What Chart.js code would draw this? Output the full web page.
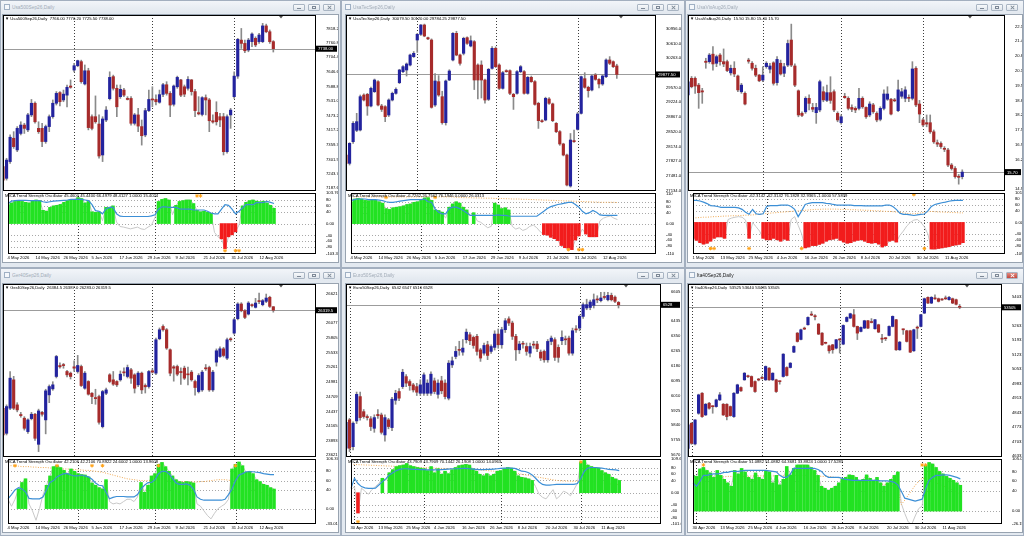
<!DOCTYPE html>
<html><head><meta charset="utf-8"><title>MT4 charts</title>
<script src="https://cdn.jsdelivr.net/npm/chart.js@4.4.1/dist/chart.umd.min.js"></script>
<style>
html,body{margin:0;padding:0;}
body{width:1024px;height:536px;overflow:hidden;background:#cfd8e3;position:relative;font-family:"Liberation Sans",Arial,sans-serif;}
.win{position:absolute;box-sizing:border-box;background:#e3e9f0;border:1px solid #a3afbf;}
.tbar{position:absolute;box-sizing:border-box;background:linear-gradient(#f2f5f9,#e2e8ef);}
.ico{position:absolute;box-sizing:border-box;width:6px;height:6px;border:1px solid #9fb0c4;background:#f4f7fb;}
.ttl{position:absolute;font-size:9.6px;transform:scale(0.5);transform-origin:0 0;white-space:nowrap;color:#a2acb8;line-height:1;}
.btn{position:absolute;box-sizing:border-box;width:12px;height:7px;border:1px solid #a9b5c3;border-radius:1px;background:linear-gradient(#f7f9fb,#e0e6ed);}
.gmin{position:absolute;left:3px;top:3px;width:4px;height:1px;background:#7d8896;}
.gmax{position:absolute;box-sizing:border-box;left:3px;top:1px;width:4px;height:3px;border:1px solid #7d8896;}
.gx{position:absolute;left:4.5px;top:0px;width:1px;height:5px;background:#fff;}
.box{position:absolute;box-sizing:border-box;background:#fff;border:1px solid #98a3b0;}
canvas{position:absolute;}
.hdr{position:absolute;font-size:8.4px;transform:scale(0.5);transform-origin:0 0;white-space:pre;color:#000;line-height:1;}
</style></head><body>
<script>
// ---------------- DATA ----------------
const datesMay4 = ['4 May 2026','14 May 2026','26 May 2026','5 Jun 2026','17 Jun 2026','29 Jun 2026','9 Jul 2026','21 Jul 2026','31 Jul 2026','12 Aug 2026'];
const datesMay1 = ['1 May 2026','13 May 2026','25 May 2026','4 Jun 2026','16 Jun 2026','26 Jun 2026','8 Jul 2026','20 Jul 2026','30 Jul 2026','11 Aug 2026'];
const datesApr30 = ['30 Apr 2026','13 May 2026','25 May 2026','4 Jun 2026','16 Jun 2026','26 Jun 2026','8 Jul 2026','20 Jul 2026','30 Jul 2026','11 Aug 2026'];
const sepsMay4 = [20, 42, 65];
const sepsMay1 = [21, 43, 66];
const sepsApr30 = [1, 21, 43, 66];

// Usa500
const spxO = [7273,7227,7293,7385,7339,7404,7437,7418,7477,7523,7424,7424,7372,7431,7470,7523,7565,7536,7555,7591,7654,7671,7687,7599,7651,7470,7470,7441,7319,7457,7541,7628,7582,7549,7575,7542,7542,7444,7477,7431,7398,7494,7540,7538,7527,7558,7596,7562,7519,7588,7615,7588,7582,7615,7569,7486,7479,7545,7536,7454,7487,7470,7470,7332,7477,7549,7630,7772,7759,7733,7766,7779,7766,7766,7828,7805,7766];
const spxC = [7220,7299,7389,7352,7424,7437,7424,7477,7523,7450,7411,7372,7431,7470,7523,7562,7529,7559,7586,7586,7671,7691,7608,7651,7427,7424,7450,7315,7461,7496,7625,7582,7509,7578,7555,7538,7444,7477,7433,7395,7494,7538,7536,7529,7557,7596,7562,7516,7591,7625,7555,7559,7617,7569,7494,7481,7545,7536,7454,7449,7450,7457,7332,7470,7496,7630,7775,7759,7730,7772,7796,7753,7792,7828,7805,7766,7738];
const spxH = [7286,7306,7398,7411,7431,7450,7444,7483,7538,7529,7450,7444,7437,7477,7536,7569,7569,7575,7595,7615,7680,7693,7693,7674,7661,7477,7552,7477,7470,7510,7647,7634,7595,7595,7582,7549,7549,7483,7503,7457,7503,7575,7588,7556,7575,7602,7608,7569,7595,7630,7617,7595,7628,7617,7578,7549,7549,7556,7542,7477,7529,7483,7483,7477,7503,7647,7779,7818,7772,7779,7801,7785,7799,7838,7835,7812,7770];
const spxL = [7201,7220,7286,7345,7332,7398,7404,7411,7470,7444,7404,7352,7365,7411,7464,7516,7512,7529,7509,7582,7647,7667,7602,7595,7418,7418,7444,7306,7293,7450,7536,7575,7470,7542,7549,7536,7437,7437,7411,7358,7391,7490,7509,7516,7523,7549,7555,7470,7512,7582,7549,7549,7575,7555,7470,7477,7473,7477,7411,7444,7437,7431,7319,7326,7424,7542,7621,7739,7722,7726,7746,7746,7759,7762,7801,7759,7725];
const spxHist = [64,70,75,77,75,72,70,76,80,78,45,42,55,60,62,65,72,78,80,82,88,85,70,75,40,38,40,null,55,55,60,null,null,null,null,null,null,null,null,null,null,null,null,75,82,85,80,null,62,75,78,80,80,68,45,40,42,38,35,null,null,-52,-85,-45,-38,-28,null,60,72,78,80,76,74,76,70,62,52];
const spxSig = [68,76,78,79,79,79,78,78,78,78,74,72,74,76,77,78,79,80,82,82,82,82,80,78,64,44,42,33,50,55,55,33,25,24,24,24,24,24,24,24,24,26,30,49,57,57,55,55,55,50,49,49,49,46,46,46,46,42,36,33,33,49,64,62,49,33,42,53,64,64,64,71,71,72,75,72,68];
const spxRaw = [64,70,75,77,75,72,70,76,80,78,45,42,55,60,62,65,72,78,80,82,88,85,70,75,40,38,40,10,55,55,60,5,-10,-12,-15,-18,-15,-12,-18,-20,-12,-5,20,75,82,85,80,30,62,75,78,80,80,68,45,40,42,38,35,-30,-45,-52,-85,-45,-38,-28,-5,60,72,78,80,76,74,76,70,62,52];
const spxUp = [54,55];
const spxDn = [62,65,66];
const spxTicks = [7818.20,7760.80,7704.40,7646.60,7588.80,7531.00,7473.20,7417.20,7359.30,7301.50,7243.70,7187.60];
const spxOscTicks = [103.7667,80,60,40,0,-40,-60,-80,-103.3222];
const spxOscLbl = ['103.7667','80','60','40','0.00','-40','-60','-80','-103.3222'];

// UsaTec
const tecO = [27971,27774,28287,28555,28563,29391,29407,29131,29470,29707,29131,29115,28918,29273,29431,29683,29944,29983,30101,30299,30693,30827,31048,30748,30693,29155,29707,29352,28737,29746,30220,30851,30338,30378,30748,30551,30654,30101,30101,29746,29289,30022,30496,30101,29549,29967,29967,29407,29431,29944,29944,29431,29810,29707,29194,28784,28800,29297,29180,28721,28524,28232,27971,27237,28310,28579,28957,29778,29573,29510,29865,29762,29652,29825,30220,30180,30079.5];
const tecC = [27774,28247,28721,28760,29352,29273,29131,29549,29746,29155,29052,28879,29273,29431,29526,29983,30062,30125,30338,30378,30827,31048,30788,30720,29099,29723,29391,28737,29723,29959,30851,30338,30141,30733,30614,30677,29746,29746,29746,29273,29999,30496,30062,29549,29920,29944,29431,29352,29944,30062,29431,29810,29707,29170,28784,28760,29312,29194,28784,28524,28232,27971,27261,28326,28287,28942,29825,29573,29494,29841,29762,29652,29841,30220,30141,30062,29877.5];
const tecH = [28050,28263,28760,28957,29391,29420,29431,29580,29770,29730,29170,29140,29300,29460,29560,30000,30090,30150,30360,30420,30850,31060,31070,30760,30720,29900,29850,29480,29746,29990,30870,30900,30360,30760,30770,30790,30680,30130,30200,29770,30020,30540,30530,30130,29950,29990,29990,29430,29970,30090,29970,29830,29840,29730,29220,28810,29340,29330,29200,28740,28550,28250,27990,28480,28560,28980,29840,29920,29600,29870,29900,29780,29870,30250,30300,30200,30120];
const tecL = [27616,27734,28247,28524,28540,29250,28910,29110,29450,29130,29000,28760,28880,29250,29410,29660,29920,29840,30080,30280,30400,30800,30770,30700,29080,29120,29360,28700,28680,29730,30200,30320,30100,30340,30590,30530,29520,29300,29320,29200,29260,30000,30040,29520,29530,29930,29400,29050,29410,29920,29410,29410,29690,29150,28600,28740,28780,29170,28760,28500,28200,27950,27240,27210,28270,28560,28940,29550,29340,29490,29740,29560,29620,29800,30110,30040,29784.25];
const tecHist = [80,90,92,90,85,84,88,85,80,75,55,52,58,60,62,65,70,72,78,80,85,94,95,85,50,48,42,null,60,72,80,75,60,50,null,40,null,null,null,null,null,75,68,55,58,50,null,null,null,null,null,null,null,null,null,-40,-42,-50,-55,-62,-80,-88,-90,-95,-60,-45,null,-38,-48,-48,-48,null,null,null,null,null,null];
const tecSig = [84,88,90,90,90,88,88,88,86,84,80,78,78,80,82,84,86,88,88,88,88,90,80,78,54,42,36,36,55,60,60,55,48,40,30,30,30,30,30,30,30,30,32,30,30,28,27,27,27,27,27,27,27,27,36,45,55,62,66,70,72,75,78,78,70,60,45,36,40,48,42,32,30,30,30,30,30];
const tecRaw = [80,90,92,90,85,84,88,85,80,75,55,52,58,60,62,65,70,72,78,80,85,94,95,85,50,48,42,20,60,72,80,75,60,50,30,40,10,5,-5,-15,-10,75,68,55,58,50,-10,-20,-15,-25,-20,-10,-5,-15,-30,-40,-42,-50,-55,-62,-80,-88,-90,-95,-60,-45,-20,-38,-48,-48,-48,10,20,25,28,20,15];
const tecLvl = [98,98,98,98,98,98,98,98,98,98,98,98,98,98,98,98,98,98,98,98,98,98,98,98,98,98,98,98,98,98,96,96,95,95,95,94,94,94,93,93,93,92,92,92,91,91,90,90,90,89,89,88,88,87,87,86,86,85,85,84,84,83,83,82,82,81,81,80,80,79,79,78,78,78,78,78,77];
const tecUp = [10,24];
const tecDn = [62,65,66];
const tecTicks = [30956,30610,30263,29570,29224,28867,28520,28174,27827,27481,27134];
const tecOscTicks = [110,80,60,40,0,-40,-60,-80,-110];
const tecOscLbl = ['110','80','60','40','0.00','-40','-60','-80','-110'];

// UsaVix
const vixO = [19.09,19.82,19.82,19.52,19.27,20.57,20.55,20.88,20.48,20.84,20.55,20.55,20.06,20.26,19.92,19.23,19.16,20.62,20.48,20.26,19.96,19.74,20.33,20.22,20.50,19.63,20.48,20.04,20.40,21.50,20.36,19.27,18.28,18.35,18.94,18.54,18.31,18.43,19.23,18.85,19.19,19.23,18.28,17.87,19.03,18.94,18.54,18.50,18.50,18.94,18.54,18.21,18.65,18.28,18.02,18.50,18.90,18.90,18.87,18.40,19.03,18.94,18.97,18.94,20.26,18.69,17.99,17.87,17.87,17.47,16.99,16.96,16.74,16.67,16.01,15.86,15.52,15.50];
const vixC = [19.67,19.45,19.48,19.19,19.22,20.52,20.84,20.45,20.77,20.55,20.45,20.16,20.26,20.01,19.31,19.52,18.69,20.57,20.26,19.96,19.71,19.96,20.48,20.36,19.60,20.65,20.01,20.33,21.35,20.40,19.52,18.21,18.19,18.94,18.72,18.46,18.54,19.67,18.87,19.19,18.85,18.43,17.99,18.13,18.97,18.50,18.46,18.43,18.94,18.57,18.13,18.69,18.35,17.99,18.50,19.13,19.13,18.25,18.83,19.31,19.23,19.31,18.94,20.23,18.65,18.25,17.77,17.81,17.47,17.03,16.93,16.82,16.70,16.01,15.86,15.50,15.47,15.70];
const vixH = [19.82,19.90,19.88,19.60,19.38,20.70,20.91,21.21,20.84,20.91,21.11,20.62,20.40,20.55,19.96,19.60,19.23,20.70,20.55,20.40,19.99,20.33,20.55,20.48,20.55,20.77,20.62,20.48,21.50,22.20,20.45,19.31,18.35,19.01,19.09,18.72,18.72,19.74,19.45,19.52,19.89,19.31,18.35,18.21,19.16,19.01,18.65,18.57,19.38,19.01,18.57,18.79,18.72,18.35,18.57,19.31,19.45,18.94,18.94,19.74,19.38,19.45,19.09,20.55,20.33,18.85,18.06,18.21,18.21,17.55,17.11,17.03,16.82,16.74,16.08,15.94,15.60,15.80];
const vixL = [19.01,19.40,19.16,18.50,18.72,20.26,20.48,20.18,20.33,20.40,20.33,20.11,19.96,19.89,19.23,19.16,18.65,20.48,20.18,19.89,19.67,19.67,20.26,20.06,19.52,19.52,19.96,19.89,20.33,20.33,19.45,18.13,18.13,18.28,18.43,18.35,17.84,18.35,18.79,18.79,18.72,18.35,17.91,17.80,18.94,18.43,18.35,18.31,18.43,18.50,18.06,18.13,18.28,17.91,17.95,18.43,18.85,18.21,18.79,18.35,18.94,18.79,18.79,18.87,18.57,17.87,17.69,17.69,17.40,16.96,16.82,16.74,16.60,15.94,15.79,15.43,15.17,15.40];
const vixHist = [-55,-62,-70,-75,-72,-65,-55,-50,-50,-55,null,null,null,null,null,null,-55,null,null,null,-55,-60,-60,-55,-60,-65,-58,-62,null,null,null,null,-88,-85,-80,-80,-76,-72,-65,-60,-58,-55,-62,-68,-72,-70,-65,-62,-60,-65,-70,-72,-70,-75,-85,-80,-65,-62,-68,null,null,null,null,null,null,null,null,null,-92,-92,-90,-88,-86,-84,-80,-78,-76,-70];
const vixSig = [76,76,74,70,65,58,57,55,52,52,52,52,52,50,45,35,28,45,30,28,30,55,58,58,58,60,60,60,55,45,20,40,62,66,68,68,68,68,66,65,62,60,60,60,60,60,58,58,58,57,57,57,57,57,57,60,60,55,45,32,28,28,26,24,26,28,29,40,55,62,65,68,70,73,75,76,76,76];
const vixRaw = [-55,-62,-70,-75,-72,-65,-55,-50,-50,-55,10,15,18,20,18,8,-55,0,-15,-30,-55,-60,-60,-55,-60,-65,-58,-62,10,20,-10,-40,-88,-85,-80,-80,-76,-72,-65,-60,-58,-55,-62,-68,-72,-70,-65,-62,-60,-65,-70,-72,-70,-75,-85,-80,-65,-62,-68,-45,-30,-12,0,8,10,0,-15,-40,-92,-92,-90,-88,-86,-84,-80,-78,-76,-70];
const vixLvl = [15,16,17,18,18,19,20,20,21,22,22,23,23,24,24,25,25,26,27,28,30,31,32,33,34,35,36,37,38,39,40,41,42,43,44,45,45,46,46,46,46,46,45,45,45,44,44,43,43,42,42,41,40,40,39,38,38,37,36,35,33,31,30,30,31,33,35,37,38,37,36,36,35,35,34,34,33,33];
const vixUp = [63];
const vixDn = [5,6,16,31,66];
const vixTicks = [22.10,21.45,20.80,20.15,19.50,18.85,18.20,17.55,16.90,16.25,14.95];
const vixOscTicks = [101.5735,80,60,40,0,-40,-60,-80,-109.043];
const vixOscLbl = ['101.5735','80','60','40','0.00','-40','-60','-80','-109.043'];

// Ger40
const gerO = [24497,24031,24497,25025,24559,24380,24311,24062,24304,24385,23826,24420,24280,24745,24857,25087,25291,25304,25180,25149,25267,25180,25273,24869,24994,24776,24690,24714,24155,24776,25118,25025,24994,25025,25170,25087,25211,25118,24932,25149,24920,24900,25193,25149,25789,26018,25956,25584,25267,25273,25180,25242,25130,25168,24994,24807,24838,25242,25254,24838,25354,25459,25602,25428,25780,25894,26162,26435,26310,26248,26420,26373,26490,26422,26484,26560,26384.5];
const gerC = [24000,24528,25056,24497,24466,24360,24124,24280,24385,23938,24447,24385,24820,24900,24932,25459,25267,25290,25118,25087,25242,25292,24919,25149,24758,24714,24676,24236,24807,24838,24994,24944,24932,25130,25155,25254,25056,24869,25149,24838,24895,25180,25168,25770,25956,25956,25615,25149,25242,25130,25160,25056,25118,25025,24882,25105,25168,25230,24838,25168,25565,25602,25478,25770,25770,26143,26435,26310,26186,26453,26405,26453,26480,26497,26546,26391,26319.5];
const gerH = [24530,24560,25180,25090,24600,24420,24340,24300,24420,24400,24480,24440,24850,24930,24990,25480,25340,25330,25200,25170,25380,25480,25300,25180,25010,24790,24850,24740,24830,24870,25140,25180,25010,25190,25250,25300,25240,25140,25180,25170,24950,25200,25230,25800,25990,26050,25980,25600,25290,25300,25250,25280,25260,25200,25020,25140,25200,25310,25280,25200,25600,25640,25630,25800,25810,26170,26460,26460,26330,26480,26440,26540,26640,26520,26620,26580,26387];
const gerL = [23950,24000,24470,24470,24430,24330,24090,24030,24280,23900,23690,24350,24020,24600,24830,25060,25240,25240,25080,25040,25180,25150,24900,24850,24740,24580,24570,24200,24130,24750,24970,24920,24900,25000,25100,25060,24960,24780,24900,24770,24780,24870,25150,25120,25770,25930,25590,25100,25000,25100,24940,25030,24930,25000,24740,24780,24810,25200,24810,24810,25280,25440,25450,25400,25740,25870,26140,26290,26160,26230,26380,26360,26440,26400,26460,26370,26283];
const gerHist = [null,null,null,42,56,64,null,null,null,null,null,50,70,90,92,88,82,75,85,80,75,73,72,68,55,50,45,42,62,null,null,null,null,null,null,null,null,null,56,35,50,70,75,95,99,90,80,70,62,58,56,58,57,55,null,null,null,null,null,null,null,null,null,null,85,95,100,92,78,80,75,62,58,52,50,45,42];
const gerSig = [21,30,40,45,42,36,22,21,21,21,25,40,56,60,68,72,75,75,72,70,70,72,70,68,63,55,50,49,35,21,24,26,26,26,25,25,25,30,42,50,56,56,62,75,80,80,75,65,55,52,52,53,50,42,25,20,18,18,18,18,18,18,20,30,42,60,72,75,79,79,79,78,77,75,74,73,73];
const gerRaw = [20,5,20,42,56,64,10,-5,-25,0,30,50,70,90,92,88,82,75,85,80,75,73,72,68,55,50,45,42,62,15,10,12,10,15,20,20,15,25,56,35,50,70,75,95,99,90,80,70,62,58,56,58,57,55,10,5,-5,-15,-22,-10,0,5,10,20,85,95,100,92,78,80,75,62,58,52,50,45,42];
const gerLvl = [92,92,91,91,90,90,90,89,89,88,88,88,87,87,86,86,85,85,84,84,83,83,82,82,81,80,79,78,76,74,72,70,68,66,64,63,62,61,60,60,60,60,60,60,60,60,60,59,59,58,58,58,57,57,57,58,58,59,60,61,62,62,62,61,60,57,54,51,48,45,42,39,36,33,30,27,25];
const gerUp = [2,14,24,27,43,65];
const gerDn = [];
const gerTicks = [26621,26077,25805,25533,25261,24981,24709,24437,24165,23893,23621];
const gerOscTicks = [106.3724,80,60,40,0,-33.0199];
const gerOscLbl = ['106.3724','80','60','40','0.00','-33.0199'];

// Euro50
const euO = [5709,5871,5718,5865,6004,5918,5890,5877,5823,5902,5899,5785,5871,5827,5983,6033,6061,6118,6090,6071,6061,6023,6023,6023,6023,6094,6017,6094,6081,5995,6185,6233,6270,6258,6329,6357,6342,6348,6271,6252,6300,6262,6285,6361,6300,6386,6448,6424,6348,6271,6305,6290,6252,6300,6304,6258,6262,6214,6319,6329,6285,6323,6330,6338,6252,6387,6395,6462,6510,6513,6525,6558,6552,6572,6557,6582,6572,6542];
const euC = [5857,5709,5852,6017,5884,5890,5884,5833,5884,5895,5800,5884,5833,5989,6023,5995,6143,6081,6067,6042,6029,6071,6128,6081,6132,6033,6081,6037,6004,6195,6208,6262,6268,6281,6372,6323,6296,6262,6224,6296,6239,6290,6361,6300,6386,6437,6424,6348,6271,6304,6303,6262,6290,6298,6277,6224,6214,6319,6338,6228,6228,6342,6328,6252,6380,6385,6462,6529,6529,6544,6557,6556,6567,6570,6582,6557,6548,6528];
const euH = [5870,5880,5860,6030,6030,5930,5900,5890,5900,5930,5910,5900,5880,6000,6040,6050,6160,6130,6100,6080,6080,6100,6140,6100,6145,6110,6100,6120,6100,6210,6230,6290,6320,6330,6390,6370,6350,6360,6280,6310,6320,6300,6380,6390,6400,6450,6460,6435,6360,6320,6320,6310,6310,6320,6320,6270,6270,6330,6350,6340,6300,6380,6350,6350,6395,6410,6470,6540,6560,6555,6590,6580,6600,6600,6600,6595,6580,6547];
const euL = [5700,5690,5700,5850,5870,5880,5870,5810,5800,5880,5790,5750,5820,5810,5960,5980,6050,6060,6040,6030,6010,6010,6010,6010,6010,6020,5995,6020,5990,5985,6170,6220,6240,6240,6310,6300,6280,6240,6205,6240,6215,6250,6270,6280,6280,6370,6410,6330,6210,6250,6280,6240,6230,6280,6260,6210,6200,6200,6300,6210,6200,6300,6300,6240,6240,6370,6380,6450,6500,6500,6510,6540,6545,6560,6550,6550,6540,6510];
const euHist = [null,null,-66,null,null,null,null,null,null,47,null,65,75,85,88,90,95,88,85,82,80,78,72,85,65,78,60,70,62,75,82,88,90,92,90,78,70,60,55,62,55,60,70,72,78,82,80,70,55,50,48,45,40,null,null,null,null,null,null,null,null,null,null,null,null,null,100,105,90,85,82,80,72,65,60,50,45,40];
const euSig = [14,47,30,20,16,14,14,15,25,36,45,58,65,72,76,78,78,77,76,76,75,75,74,74,74,74,75,76,77,78,78,78,79,79,78,77,76,75,75,76,76,77,78,79,80,80,80,79,75,70,69,65,58,47,35,27,25,25,26,27,27,27,27,27,27,30,47,70,80,82,82,81,80,78,76,75,74,72];
const euRaw = [10,20,-66,15,5,-5,10,20,30,47,40,65,75,85,88,90,95,88,85,82,80,78,72,85,65,78,60,70,62,75,82,88,90,92,90,78,70,60,55,62,55,60,70,72,78,82,80,70,55,50,48,45,40,20,-5,-15,-20,-5,10,-20,-10,5,0,-10,10,30,100,105,90,85,82,80,72,65,60,50,45,40];
const euLvl = [92,92,91,91,90,90,89,89,88,88,87,87,86,86,85,85,84,84,83,83,82,82,81,81,80,80,79,79,78,78,77,77,76,76,75,75,74,74,73,72,71,70,69,68,67,66,65,64,62,60,58,56,54,52,50,48,46,44,42,40,39,38,38,37,37,38,40,38,37,35,34,33,31,30,29,28,27,26];
const euUp = [66];
const euDn = [2];
const euTicks = [6605,6435,6350,6265,6180,6095,6010,5925,5840,5755,5670];
const euOscTicks = [109.6,80,60,40,0,-40,-60,-80,-101.6];
const euOscLbl = ['109.6','80','60','40','0.00','-40','-60','-80','-101.6'];

// Ita40
const itaO = [46710,47918,46920,48400,49365,48319,48883,48730,48722,49043,48834,48834,48722,48239,49365,49639,50009,50180,50170,49928,50020,50100,50009,50572,50009,50009,49935,50170,50604,50604,51344,52261,51956,52470,52664,53150,53070,52696,52261,51790,51650,51698,51537,51950,51730,52825,52985,53146,52583,52342,52503,52857,52780,52471,52664,51990,52010,52149,52583,52905,51457,52440,52374,52374,51408,52520,52583,53226,53983,53709,53930,53918,53880,53930,53870,53918,53870,53525];
const itaC = [47837,46952,48078,49285,48239,48834,48641,48715,49043,49285,48319,48239,48287,49365,49768,49478,50331,50160,49687,49446,50000,50080,50653,50009,50331,49446,49920,51248,50218,50814,51618,51859,52422,52455,53017,53130,53050,52213,51698,51770,51408,51457,51940,51930,52631,53017,53193,52583,52261,52535,52857,52503,52770,52905,52310,51970,51990,52583,53066,51457,51827,52420,51859,51344,52422,52500,53146,53918,53709,53983,53910,53790,53860,53910,53983,53709,53650,53505];
const itaH = [47900,47950,48100,49320,49400,48870,48920,48760,49080,49400,48870,48860,48750,49400,49800,49670,50360,50240,50200,49960,50080,50200,50680,50600,50350,50040,49960,51270,50640,50840,51650,52290,52450,52550,53040,53300,53150,52720,52290,51830,51680,51720,51960,52000,52660,53050,53220,53400,52600,52560,52880,52880,52960,52930,52690,52200,52040,52610,53090,52930,51860,52460,52400,52400,52450,52600,53170,53950,54010,54020,54100,53950,53930,54050,54030,53950,53900,53640];
const itaL = [46550,46900,46880,48350,48200,48290,48600,48400,48690,49010,48290,48080,48260,48200,49340,49450,49990,50120,49660,49400,49960,50050,49980,49980,49980,49400,49800,50140,50190,50580,51320,51830,51930,52430,52640,53100,52900,52190,51670,51740,51300,51290,51500,51300,51700,52800,52960,52550,51950,52320,52480,52480,52750,52450,52280,51800,51900,52120,52560,51430,51430,52200,51830,51320,51380,52000,52560,53200,53680,53680,53880,53760,53830,53880,53850,53680,53620,53435];
const itaHist = [72,70,85,88,82,77,68,82,72,64,57,50,82,75,86,79,68,64,77,68,64,82,79,57,72,53,64,90,73,86,93,93,93,93,88,82,72,50,46,42,46,50,57,64,68,73,72,68,61,64,73,66,61,68,57,50,57,64,72,79,null,null,null,null,null,null,null,92,98,95,88,80,75,70,66,62,57,52];
const itaSig = [57,50,60,72,72,74,75,75,76,78,78,80,80,80,81,82,82,82,82,82,82,82,81,80,79,72,68,68,74,86,86,86,86,86,86,86,84,80,72,68,68,68,68,66,64,63,62,62,62,62,62,62,62,62,61,61,61,60,58,53,40,26,24,22,20,22,24,45,62,68,72,72,73,73,72,70,68,65];
const itaRaw = [72,70,85,88,82,77,68,82,72,64,57,50,82,75,86,79,68,64,77,68,64,82,79,57,72,53,64,90,73,86,93,93,93,93,88,82,72,50,46,42,46,50,57,64,68,73,72,68,61,64,73,66,61,68,57,50,57,64,72,79,15,-5,-22,-27,-10,5,10,92,98,95,88,80,75,70,66,62,57,52];
const itaLvl = [66,66,67,67,68,68,68,69,69,69,70,70,70,70,70,70,70,71,71,71,71,71,71,71,71,72,72,72,72,72,72,72,72,72,71,71,71,70,70,70,69,68,67,66,65,64,63,62,61,60,59,58,57,56,55,54,53,52,50,45,13,22,32,42,52,60,66,66,63,60,57,54,51,48,45,42,38,34];
const itaUp = [3,66,67];
const itaDn = [];
const itaTicks = [54031,52631,51931,51231,50531,49831,49131,48431,47731,47031,46331];
const itaOscTicks = [105.0876,80,60,40,0,-26.158];
const itaOscLbl = ['105.0876','80','60','40','0.00','-26.1580'];

// ---------------- STYLE / LAYOUT ----------------
const BLUE='#23239e', RED='#a62b2b', WICK='#8a8a8a', GREEN='#22e222', HRED='#f21c1c', SIG='#3c8fd6', RAW='#c8c8c8', LVL='#f0aa55', STAR='#ffa31a';
const FONT = 4.2;
const FONTSTR = FONT + 'px "Liberation Sans", Arial, sans-serif';
Chart.defaults.font.family = '"Liberation Sans", Arial, sans-serif';

const ROWS = {
  top: {winY:0, winH:268, boxTop:14, boxBot:263, mainTop:15, mainBot:191, oscTop:192, oscBot:254},
  bot: {winY:268, winH:268, boxTop:283, boxBot:533, mainTop:284, mainBot:457, oscTop:458, oscBot:524}
};

const panels = [
  {title:'Usa500Sep26,Daily', head:'Usa500Sep26,Daily  7766.00 7770.20 7725.50 7738.00', osc:'MICA Trend Strength Oscillator 45.4600 45.4400 66.4979 48.4127 1.0000 15.4024',
   O:spxO,H:spxH,L:spxL,C:spxC,hist:spxHist,sig:spxSig,raw:spxRaw,lvl:null,up:spxUp,dn:spxDn,hi:94,lo:-92,
   dates:datesMay4,seps:sepsMay4,ticks:spxTicks,dec:2,oTicks:spxOscTicks,oLbl:spxOscLbl,levels:[80,60,40,0,-40,-60,-80],
   price:7738,priceText:'7738.00',yMin:7177,yMax:7871,oMin:-103.3222,oMax:103.7667,slots:89,
   row:'top',winX:0,winW:341,plotL:3,axisX:316,boxR:338,active:false},
  {title:'UsaTecSep26,Daily', head:'UsaTecSep26,Daily  30079.50 30120.00 29784.25 29877.50', osc:'MICA Trend Strength Oscillator -6.7262 26.7562 76.1946 0.0000 26.0313',
   O:tecO,H:tecH,L:tecL,C:tecC,hist:tecHist,sig:tecSig,raw:tecRaw,lvl:tecLvl,up:tecUp,dn:tecDn,hi:96,lo:-95,
   dates:datesMay4,seps:sepsMay4,ticks:tecTicks,dec:2,oTicks:tecOscTicks,oLbl:tecOscLbl,levels:[80,60,40,0,-40,-60,-80],
   price:29877.5,priceText:'29877.50',yMin:27119,yMax:31285,oMin:-111,oMax:112,slots:88,
   row:'top',winX:341,winW:344,plotL:346,axisX:656,boxR:681,active:false},
  {title:'UsaVixAug26,Daily', head:'UsaVixAug26,Daily  15.50 15.80 15.40 15.70', osc:'MICA Trend Strength Oscillator -62.3142 -62.3142 76.1828 32.9365 -1.0000 57.5839',
   O:vixO,H:vixH,L:vixL,C:vixC,hist:vixHist,sig:vixSig,raw:vixRaw,lvl:vixLvl,up:vixUp,dn:vixDn,hi:96,lo:-90,
   dates:datesMay1,seps:sepsMay1,ticks:vixTicks,dec:2,oTicks:vixOscTicks,oLbl:vixOscLbl,levels:[80,60,40,0,-40,-60,-80],
   price:15.70,priceText:'15.70',yMin:14.87,yMax:22.6,oMin:-109.043,oMax:101.5735,slots:90,
   row:'top',winX:685,winW:339,plotL:688,axisX:1005,boxR:1022,active:false},
  {title:'Ger40Sep26,Daily', head:'Ger40Sep26,Daily  26384.5 26387.0 26283.0 26319.5', osc:'MICA Trend Strength Oscillator 42.2106 42.2106 70.8922 24.6002 1.0000 13.9608',
   O:gerO,H:gerH,L:gerL,C:gerC,hist:gerHist,sig:gerSig,raw:gerRaw,lvl:gerLvl,up:gerUp,dn:gerDn,hi:92,lo:-30,
   dates:datesMay4,seps:sepsMay4,ticks:gerTicks,dec:1,oTicks:gerOscTicks,oLbl:gerOscLbl,levels:[80,60,40,0],
   price:26319.5,priceText:'26319.5',yMin:23590,yMax:26807,oMin:-33.0199,oMax:106.3724,slots:89,
   row:'bot',winX:0,winW:341,plotL:3,axisX:316,boxR:338,active:false},
  {title:'Euro50Sep26,Daily', head:'Euro50Sep26,Daily  6542 6547 6510 6528', osc:'MICA Trend Strength Oscillator 43.7909 43.7909 70.1442 26.1908 1.0000 14.0963',
   O:euO,H:euH,L:euL,C:euC,hist:euHist,sig:euSig,raw:euRaw,lvl:euLvl,up:euUp,dn:euDn,hi:100,lo:-94,
   dates:datesApr30,seps:sepsApr30,ticks:euTicks,dec:0,oTicks:euOscTicks,oLbl:euOscLbl,levels:[80,60,40,0,-40,-60,-80],
   price:6528,priceText:'6528',yMin:5659,yMax:6647,oMin:-101.6,oMax:109.6,slots:90,
   row:'bot',winX:341,winW:344,plotL:346,axisX:661,boxR:681,active:false},
  {title:'Ita40Sep26,Daily', head:'Ita40Sep26,Daily  53525 53640 53435 53505', osc:'MICA Trend Strength Oscillator 51.0882 51.0882 64.3681 33.8824 1.0000 17.5283',
   O:itaO,H:itaH,L:itaL,C:itaC,hist:itaHist,sig:itaSig,raw:itaRaw,lvl:itaLvl,up:itaUp,dn:itaDn,hi:93,lo:-24,
   dates:datesApr30,seps:sepsApr30,ticks:itaTicks,dec:0,oTicks:itaOscTicks,oLbl:itaOscLbl,levels:[80,60,40,0],
   price:53505,priceText:'53505',yMin:46292,yMax:54627,oMin:-26.158,oMax:105.0876,slots:90,
   row:'bot',winX:685,winW:339,plotL:688,axisX:1002,boxR:1022,active:true}
];

// ---------------- HELPERS ----------------
function el(tag, cls, css, text) {
  const e = document.createElement(tag);
  if (cls) e.className = cls;
  Object.keys(css || {}).forEach(k => { e.style[k] = (typeof css[k] === 'number') ? css[k] + 'px' : css[k]; });
  if (text != null) e.textContent = text;
  document.body.appendChild(e);
  return e;
}
function sub(parent, cls, css) {
  const e = document.createElement('div'); e.className = cls;
  Object.keys(css || {}).forEach(k => { e.style[k] = (typeof css[k] === 'number') ? css[k] + 'px' : css[k]; });
  parent.appendChild(e); return e;
}

const mtPlugin = {
  id: 'mt',
  beforeDatasetsDraw(chart, args, o) {
    const {ctx, chartArea: a, scales} = chart;
    ctx.save();
    ctx.lineWidth = 1;
    ctx.setLineDash([1, 2]);
    if (o.levels) {
      ctx.strokeStyle = '#a8a8a8';
      o.levels.forEach(v => {
        const py = Math.round(scales.y.getPixelForValue(v)) + 0.5;
        ctx.beginPath(); ctx.moveTo(a.left, py); ctx.lineTo(a.right, py); ctx.stroke();
      });
    }
    ctx.strokeStyle = '#3c3c3c';
    (o.seps || []).forEach(i => {
      const px = Math.round(scales.x.getPixelForValue(i)) + 0.5;
      ctx.beginPath(); ctx.moveTo(px, a.top); ctx.lineTo(px, a.bottom); ctx.stroke();
    });
    ctx.setLineDash([]);
    if (o.price != null) {
      const py = Math.round(scales.y.getPixelForValue(o.price)) + 0.5;
      ctx.strokeStyle = '#9c9c9c';
      ctx.beginPath(); ctx.moveTo(a.left, py); ctx.lineTo(a.right, py); ctx.stroke();
    }
    ctx.restore();
  },
  afterDatasetsDraw(chart, args, o) {
    const {ctx, chartArea: a, scales} = chart;
    ctx.save();
    ctx.strokeStyle = '#000'; ctx.lineWidth = 1;
    ctx.strokeRect(Math.round(a.left) + 0.5, Math.round(a.top) + 0.5, Math.round(a.right - a.left) - 1, Math.round(a.bottom - a.top) - 1);
    if (o.price != null) {
      const py = scales.y.getPixelForValue(o.price);
      ctx.fillStyle = '#000';
      ctx.fillRect(a.right, py - 3, chart.width - a.right - 1, 6);
      ctx.fillStyle = '#fff';
      ctx.font = FONTSTR;
      ctx.textBaseline = 'middle';
      ctx.fillText(o.priceText, a.right + 2, py + 0.3);
    }
    if (o.shift) {
      const sx = a.right - 35;
      ctx.fillStyle = '#505050';
      ctx.beginPath(); ctx.moveTo(sx - 2, a.top + 1); ctx.lineTo(sx + 2, a.top + 1); ctx.lineTo(sx, a.top + 3.5); ctx.closePath(); ctx.fill();
    }
    if (o.xlabels) {
      ctx.fillStyle = '#000';
      ctx.font = FONTSTR;
      ctx.textBaseline = 'top';
      ctx.textAlign = 'left';
      o.xlabels.forEach((d, i) => {
        if (!d) return;
        ctx.fillText(d, scales.x.getPixelForValue(i) - 0.5, a.bottom + 1.5);
      });
    }
    ctx.restore();
  }
};

function yAxis(min, max, ticks, labels, w) {
  return {
    position: 'right', min: min, max: max,
    afterBuildTicks: s => { s.ticks = ticks.map(v => ({value: v})); },
    afterFit: s => { s.width = w; s.paddingTop = 0; s.paddingBottom = 0; },
    grid: {display: false}, border: {display: false},
    ticks: {autoSkip: false, padding: 2, color: '#000', font: {size: FONT}, callback: (v, i) => labels[i]}
  };
}

function build(p) {
  const r = ROWS[p.row];
  const n = p.slots;
  const labels = new Array(n).fill('');
  p.dates.forEach((d, k) => { labels[k * 8] = d; });
  const axisW = p.boxR - p.axisX;
  const cw = p.boxR - p.plotL;

  // window chrome
  el('div', 'win', {left: p.winX, top: r.winY, width: p.winW, height: r.winH});
  el('div', 'tbar', {left: p.winX + 1, top: r.winY + 1, width: p.winW - 2, height: 12});
  el('div', 'ico', {left: p.winX + 4, top: r.winY + 4});
  el('div', 'ttl', {left: p.winX + 12, top: r.winY + 4.5, color: p.active ? '#1a1a1a' : '#a2acb8'}, p.title);
  const bx = p.winX + p.winW - 48;
  const b1 = el('div', 'btn', {left: bx, top: r.winY + 3.5}); sub(b1, 'gmin', {});
  const b2 = el('div', 'btn', {left: bx + 15, top: r.winY + 3.5}); sub(b2, 'gmax', {});
  const b3 = el('div', 'btn', {left: bx + 30, top: r.winY + 3.5, background: p.active ? 'linear-gradient(#e08a80,#c4463c)' : ''});
  sub(b3, 'gx', {transform: 'rotate(45deg)', background: p.active ? '#fff' : '#7d8896'});
  sub(b3, 'gx', {transform: 'rotate(-45deg)', background: p.active ? '#fff' : '#7d8896'});
  el('div', 'box', {left: p.plotL - 1, top: r.boxTop, width: cw + 2, height: r.boxBot - r.boxTop});

  // main price chart
  const c1 = el('canvas', null, {left: p.plotL, top: r.mainTop});
  c1.width = cw; c1.height = (r.mainBot - r.mainTop) + 3;
  const mainLabels = p.ticks.map(v => v.toFixed(p.dec));
  new Chart(c1, {
    type: 'bar',
    data: {
      labels: labels,
      datasets: [
        {data: p.L.map((l, i) => [l, p.H[i]]), backgroundColor: WICK, barThickness: 1, grouped: false, order: 2},
        {data: p.O.map((o, i) => [o, p.C[i]]), backgroundColor: p.O.map((o, i) => p.C[i] >= o ? BLUE : RED),
         barThickness: 2.5, grouped: false, minBarLength: 1, order: 1}
      ]
    },
    options: {
      responsive: false, animation: false, events: [],
      layout: {padding: {top: 0, bottom: 3, left: 0, right: 0}},
      plugins: {legend: {display: false}, tooltip: {enabled: false},
        mt: {seps: p.seps, price: p.price, priceText: p.priceText, shift: true}},
      scales: {
        x: {type: 'category', offset: false, display: false},
        y: yAxis(p.yMin, p.yMax, p.ticks, mainLabels, axisW)
      }
    },
    plugins: [mtPlugin]
  });

  // oscillator chart
  const c2 = el('canvas', null, {left: p.plotL, top: r.oscTop - 4});
  c2.width = cw; c2.height = (r.oscBot - r.oscTop) + 4 + 10;
  const stars = new Array(n).fill(null);
  p.up.forEach(i => { stars[i] = p.hi; });
  p.dn.forEach(i => { stars[i] = p.lo; });
  const ds = [
    {type: 'line', data: p.raw, borderColor: RAW, borderWidth: 1, pointRadius: 0, order: 5},
    {type: 'bar', data: p.hist, backgroundColor: p.hist.map(v => (v != null && v < 0) ? HRED : GREEN), barThickness: 2.9, grouped: false, order: 3},
    {type: 'line', data: p.sig, borderColor: SIG, borderWidth: 1.2, pointRadius: 0, order: 1},
    {type: 'line', data: stars, showLine: false, pointStyle: 'star', pointRadius: 1.8, borderColor: STAR, borderWidth: 1, order: 0}
  ];
  if (p.lvl) ds.push({type: 'line', data: p.lvl, borderColor: LVL, borderWidth: 1, borderDash: [1, 1.5], pointRadius: 0, order: 4});
  new Chart(c2, {
    type: 'bar',
    data: {labels: labels, datasets: ds},
    options: {
      responsive: false, animation: false, events: [],
      layout: {padding: {top: 4, bottom: 10, left: 0, right: 0}},
      plugins: {legend: {display: false}, tooltip: {enabled: false},
        mt: {seps: p.seps, levels: p.levels, xlabels: labels}},
      scales: {
        x: {type: 'category', offset: false, display: false},
        y: yAxis(p.oMin, p.oMax, p.oTicks, p.oLbl, axisW)
      }
    },
    plugins: [mtPlugin]
  });

  // header texts
  el('div', 'hdr', {left: p.plotL + 2, top: r.mainTop + 1}, '\u25BC ' + p.head);
  el('div', 'hdr', {left: p.plotL + 2, top: r.oscTop + 1}, p.osc);
}

panels.forEach(build);
</script>
</body></html>
